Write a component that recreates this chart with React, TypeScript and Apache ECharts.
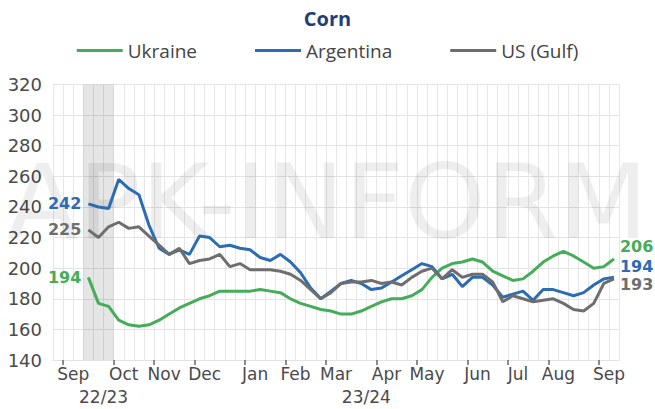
import React, { useEffect, useRef } from "react";
import * as echarts from "echarts";

// Weekly prices, USD/t (first point at week index 3 of the axis)
const ukraine = [194, 177, 175, 166, 163, 162, 163, 166, 170, 174, 177, 180, 182, 185, 185, 185, 185, 186, 185, 184, 180, 177, 175, 173, 172, 170, 170, 172, 175, 178, 180, 180, 182, 186, 194, 200, 203, 204, 206, 204, 198, 195, 192, 193, 198, 204, 208, 211, 208, 204, 200, 201, 206];
const argentina = [242, 240, 239, 258, 252, 248, 228, 213, 209, 212, 209, 221, 220, 214, 215, 213, 212, 207, 205, 209, 204, 197, 187, 180, 185, 190, 192, 190, 186, 187, 191, 195, 199, 203, 201, 193, 196, 188, 194, 194, 189, 181, 183, 185, 179, 186, 186, 184, 182, 184, 189, 193, 194];
const usGulf = [225, 220, 227, 230, 226, 227, 221, 215, 209, 213, 203, 205, 206, 209, 201, 203, 199, 199, 199, 198, 196, 192, 186, 180, 184, 190, 191, 191, 192, 190, 191, 189, 194, 198, 200, 193, 199, 194, 196, 196, 191, 178, 182, 180, 178, 179, 180, 177, 173, 172, 177, 190, 193];
const firstDataWeek = 3;
const totalWeeks = 56;

const monthLabels = ["Sep", "Oct", "Nov", "Dec", "Jan", "Feb", "Mar", "Apr", "May", "Jun", "Jul", "Aug", "Sep"];
const monthStartWeeks = [1, 6, 10, 14, 19, 23, 27, 32, 36, 41, 45, 49, 54];
const seasonLabels = ["22/23", "23/24"];
const seasonWeeks = [5, 31];
const highlightWeeks = [3, 6];
const yTicks = [140, 320, 20];

const GREEN = "#45ad5a";
const BLUE = "#2c6cb3";
const GREY = "#6e6e6e";
const AX_FONT = "DejaVu Sans";

function makeSeries(name: string, values: number[], color: string, endOffset: number[]) {
  const pts = values.map((v, i) => [firstDataWeek + i + 0.5, v]);
  return {
    name,
    type: "line",
    data: pts,
    showSymbol: false,
    lineStyle: { width: 3, color },
    itemStyle: { color },
    z: 3,
    endLabel: {
      show: true,
      formatter: (p: any) => String(p.value[1]),
      color,
      fontWeight: "bold",
      fontSize: 16,
      fontFamily: AX_FONT,
      distance: 6,
      offset: endOffset,
    },
    markPoint: {
      symbol: "circle",
      symbolSize: 0,
      silent: true,
      data: [{ coord: pts[0], value: values[0] }],
      label: {
        show: true,
        position: "left",
        distance: 7,
        formatter: "{c}",
        color,
        fontWeight: "bold",
        fontSize: 16,
        fontFamily: AX_FONT,
      },
    },
  };
}

export default function App() {
  const ref = useRef<HTMLDivElement>(null);
  useEffect(() => {
    if (!ref.current) return;
    const chart = echarts.init(ref.current, null, { renderer: "svg" });
    const s1: any = makeSeries("Ukraine", ukraine, GREEN, [0, -12]);
    s1.markArea = {
      silent: true,
      itemStyle: { color: "rgba(0,0,0,0.1)" },
      data: [[{ xAxis: highlightWeeks[0] }, { xAxis: highlightWeeks[1] }]],
    };
    const s2 = makeSeries("Argentina", argentina, BLUE, [0, -11]);
    const s3 = makeSeries("US (Gulf)", usGulf, GREY, [0, 6]);
    chart.setOption({
      animation: false,
      backgroundColor: "#ffffff",
      title: {
        text: "Corn",
        left: "center",
        top: 3,
        textStyle: { fontFamily: "Open Sans", fontWeight: "bold", fontSize: 20, color: "#1f3d78" },
      },
      legend: {
        top: 36,
        left: "center",
        itemWidth: 46,
        itemHeight: 3,
        itemGap: 58,
        icon: "rect",
        textStyle: { fontFamily: "Open Sans", fontSize: 19, color: "#444" },
        data: ["Ukraine", "Argentina", "US (Gulf)"],
      },
      graphic: [
        {
          type: "text",
          left: "center",
          top: 150,
          silent: true,
          z: 1,
          style: {
            text: "APK-INFORM",
            fontSize: 104,
            fontFamily: AX_FONT,
            fill: "rgba(0,0,0,0.065)",
          },
        },
      ],
      grid: { left: 53, right: 36, top: 84.5, bottom: 49, containLabel: false },
      xAxis: [
        {
          type: "value",
          min: 0,
          max: totalWeeks,
          interval: 1,
          axisLine: { show: true, lineStyle: { color: "#e3e3e3" } },
          splitLine: { show: false },
          axisTick: {
            show: true,
            customValues: monthStartWeeks,
            length: 5,
            lineStyle: { color: "#666", width: 1.5 },
          },
          axisLabel: {
            customValues: monthStartWeeks.map((w) => w + 1),
            formatter: (v: number) => {
              const i = monthStartWeeks.indexOf(v - 1);
              return i >= 0 ? monthLabels[i] : "";
            },
            margin: 5,
            fontFamily: AX_FONT,
            fontSize: 17,
            color: "#4a4a4a",
          },
        },
        {
          type: "value",
          min: 0,
          max: totalWeeks,
          position: "bottom",
          offset: 23,
          axisLine: { show: false },
          axisTick: { show: false },
          splitLine: { show: false },
          axisLabel: {
            customValues: seasonWeeks,
            formatter: (v: number) => {
              const i = seasonWeeks.indexOf(v);
              return i >= 0 ? seasonLabels[i] : "";
            },
            margin: 5,
            fontFamily: AX_FONT,
            fontSize: 17,
            color: "#4a4a4a",
          },
        },
        {
          type: "value",
          min: 0,
          max: totalWeeks,
          interval: 1,
          position: "top",
          axisLine: { show: false },
          axisTick: { show: false },
          axisLabel: { show: false },
          splitLine: { show: true, lineStyle: { color: "#e6e6e6", width: 1 } },
        },
      ],
      yAxis: {
        type: "value",
        min: yTicks[0],
        max: yTicks[1],
        interval: yTicks[2],
        axisLine: { show: false },
        axisTick: { show: false },
        splitLine: { lineStyle: { color: "#e3e3e3" } },
        axisLabel: { margin: 11, fontFamily: AX_FONT, fontSize: 18, color: "#4a4a4a" },
      },
      series: [s1, s2, s3],
    });
    return () => chart.dispose();
  }, []);
  return (
    <div
      ref={ref}
      style={{ position: "absolute", left: 0, top: 0, width: 655, height: 409 }}
    />
  );
}
